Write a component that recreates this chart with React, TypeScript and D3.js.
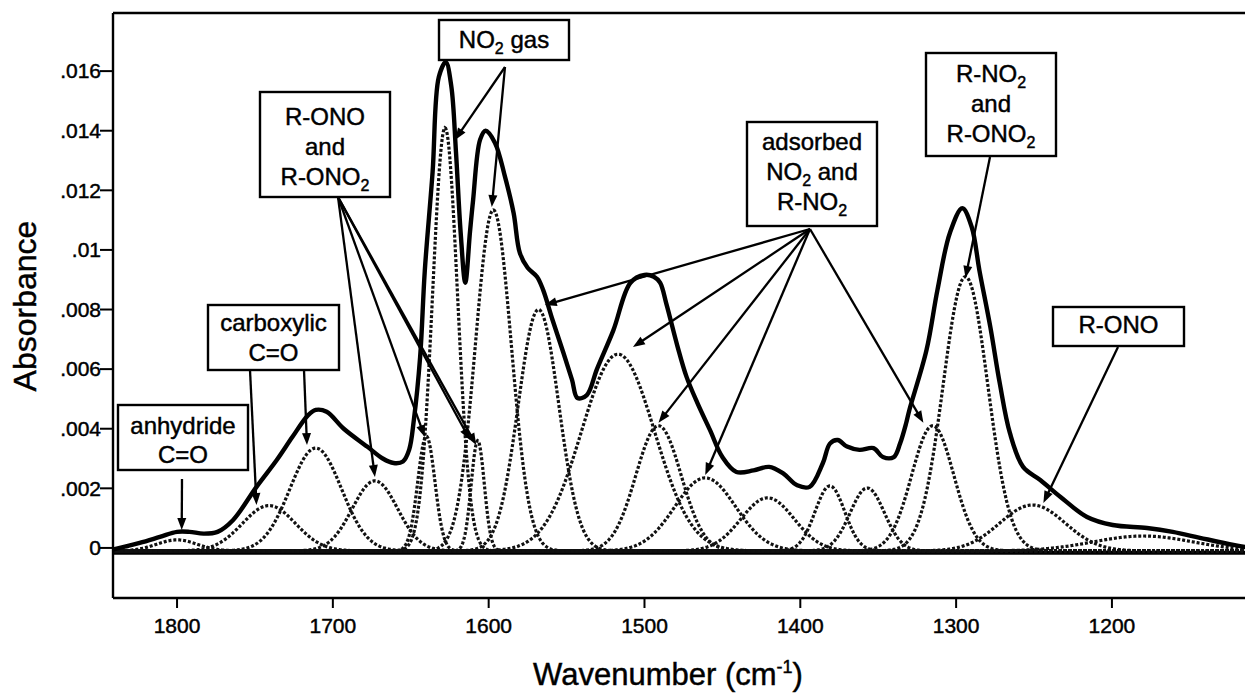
import React from 'react';
import * as d3 from 'd3';

// Measured (thick) spectrum: wavenumber (cm-1) and absorbance
const TOTAL_WN = [1841, 1824, 1811, 1800, 1792, 1783, 1774, 1764, 1749, 1736, 1726, 1716, 1711, 1704, 1693, 1678, 1668, 1661, 1655, 1651, 1648, 1644, 1641, 1636, 1632, 1627.5, 1624, 1621, 1618, 1615, 1612, 1610, 1605.5, 1602, 1596, 1589.5, 1584, 1580, 1575, 1569, 1565, 1559, 1552, 1546.5, 1543, 1537, 1530.5, 1520, 1509, 1500, 1494, 1490, 1486, 1479, 1473, 1466, 1458, 1450, 1441, 1430, 1420, 1411, 1402, 1394, 1385.5, 1381, 1376, 1370, 1362, 1353, 1347, 1340, 1336, 1332, 1330, 1319, 1312, 1304, 1296, 1290, 1285, 1278, 1272, 1265.5, 1257, 1246, 1233, 1216, 1199.5, 1177.5, 1161, 1143.5, 1122, 1114.6];
const TOTAL_ABS = [-0.00005, 0.00017, 0.00037, 0.00054, 0.00054, 0.00048, 0.00054, 0.00094, 0.00205, 0.00295, 0.00372, 0.00445, 0.00463, 0.00457, 0.0040, 0.0034, 0.0030, 0.00285, 0.0029, 0.0033, 0.0043, 0.0064, 0.0093, 0.0126, 0.0158, 0.0163, 0.0155, 0.0133, 0.0106, 0.0089, 0.0106, 0.01167, 0.0137, 0.0140, 0.0136, 0.01245, 0.01124, 0.0099, 0.0094, 0.0091, 0.00865, 0.00765, 0.00654, 0.00564, 0.00503, 0.00513, 0.0060, 0.0073, 0.0089, 0.00916, 0.0091, 0.0089, 0.0082, 0.0068, 0.00574, 0.00486, 0.00396, 0.00305, 0.00255, 0.0026, 0.00272, 0.0025, 0.0021, 0.00205, 0.00285, 0.0035, 0.00362, 0.0034, 0.00329, 0.00335, 0.00305, 0.00305, 0.0035, 0.0042, 0.00463, 0.00664, 0.00865, 0.01057, 0.0114, 0.01077, 0.0093, 0.0074, 0.00553, 0.00386, 0.00272, 0.00228, 0.00171, 0.00104, 0.00077, 0.00067, 0.00054, 0.00034, 0.0001, 0.00003];

// Fitted component bands (dotted): centre, height, width (sigma, cm-1)
const PEAK_CENTER = [1800, 1741, 1711, 1673, 1640, 1628, 1607, 1597, 1568, 1517, 1491, 1461, 1421, 1381, 1357, 1315, 1294, 1251, 1180];
const PEAK_HEIGHT = [0.00037, 0.00152, 0.00345, 0.00235, 0.00385, 0.0142, 0.0037, 0.01144, 0.0081, 0.0066, 0.0042, 0.00245, 0.00178, 0.00218, 0.00211, 0.0042, 0.0092, 0.00154, 0.0005];
const PEAK_WIDTH = [13, 17, 16.5, 14.5, 5.5, 8, 4.2, 11.5, 13, 23.5, 14.5, 19.5, 17, 9.5, 11, 13.5, 14.3, 21, 32];

const X_TICKS = [1800, 1700, 1600, 1500, 1400, 1300, 1200];
const Y_TICKS = [0, 0.002, 0.004, 0.006, 0.008, 0.01, 0.012, 0.014, 0.016];
const Y_TICK_LABELS = ['0', '.002', '.004', '.006', '.008', '.01', '.012', '.014', '.016'];

const X_DOMAIN = [1841.1, 1114.6];
const Y_DOMAIN = [-0.00168, 0.01795];
const COMPONENT_BASE = -0.0001;
const BASELINE = -0.00016;

type Seg = { t: string; sub?: boolean };
type Note = {
  box: [number, number, number, number];
  lines: Seg[][];
  baselines: number[];
  from: [number, number];
  targets: [number, number][];
};

const NOTES: Note[] = [
  { box: [118, 405, 248, 470], lines: [[{ t: 'anhydride' }], [{ t: 'C=O' }]], baselines: [434, 463], from: [182, 479], targets: [[1797, 0.0006]] },
  { box: [208, 305, 339, 370], lines: [[{ t: 'carboxylic' }], [{ t: 'C=O' }]], baselines: [331, 361], from: [250, 370], targets: [[1749, 0.00144]] },
  { box: [208, 305, 339, 370], lines: [], baselines: [], from: [304, 370], targets: [[1716.6, 0.00345]] },
  { box: [260, 92, 390, 197], lines: [[{ t: 'R-ONO' }], [{ t: 'and' }], [{ t: 'R-ONO' }, { t: '2', sub: true }]], baselines: [125, 155, 185], from: [338, 197], targets: [[1673, 0.00238], [1641, 0.00372], [1612, 0.00362], [1608, 0.00345]] },
  { box: [439, 20, 569, 60], lines: [[{ t: 'NO' }, { t: '2', sub: true }, { t: ' gas' }]], baselines: [48], from: [505, 67], targets: [[1621.6, 0.01369], [1598, 0.01144]] },
  { box: [747, 122, 877, 226], lines: [[{ t: 'adsorbed' }], [{ t: 'NO' }, { t: '2', sub: true }, { t: ' and' }], [{ t: 'R-NO' }, { t: '2', sub: true }]], baselines: [150, 180, 210], from: [810, 229], targets: [[1564, 0.00815], [1507.4, 0.00674], [1491, 0.0042], [1461, 0.00245], [1321, 0.0042]] },
  { box: [926, 53, 1056, 156], lines: [[{ t: 'R-NO' }, { t: '2', sub: true }], [{ t: 'and' }], [{ t: 'R-ONO' }, { t: '2', sub: true }]], baselines: [82, 112, 142], from: [990, 157], targets: [[1294, 0.00906]] },
  { box: [1053, 307, 1184, 346], lines: [[{ t: 'R-ONO' }]], baselines: [333], from: [1118, 347], targets: [[1244, 0.00151]] },
];

const FONT = "'Liberation Sans', Arial, Helvetica, sans-serif";
const TEXT_STROKE = { stroke: '#000', strokeWidth: 0.45 };

function Arrow({ x1, y1, x2, y2 }: { x1: number; y1: number; x2: number; y2: number }) {
  const dx = x2 - x1, dy = y2 - y1;
  const L = Math.hypot(dx, dy);
  const ux = dx / L, uy = dy / L;
  const hl = 12, hw = 4.5;
  const bx = x2 - ux * hl, by = y2 - uy * hl;
  const p = `${x2},${y2} ${bx - uy * hw},${by + ux * hw} ${bx + uy * hw},${by - ux * hw}`;
  return (
    <g>
      <line x1={x1} y1={y1} x2={bx + ux * 2} y2={by + uy * 2} stroke="#000" strokeWidth={2.3} />
      <polygon points={p} fill="#000" />
    </g>
  );
}

export default function App() {
  const W = 1245, H = 694;
  const left = 113, top = 13, right = 1245, bottom = 598;
  const x = d3.scaleLinear().domain(X_DOMAIN).range([left, right]);
  const y = d3.scaleLinear().domain(Y_DOMAIN).range([bottom, top]);

  const totalData = TOTAL_WN.map((w, i) => [w, TOTAL_ABS[i]] as [number, number]);
  const line = d3.line<[number, number]>().x(d => x(d[0])).y(d => y(d[1])).curve(d3.curveCatmullRom.alpha(0.5));
  const totalPath = line(totalData) || '';

  const grid = d3.range(X_DOMAIN[1] - 2, X_DOMAIN[0] + 2, 0.5);
  const compLine = d3.line<[number, number]>().x(d => x(d[0])).y(d => y(d[1]));
  const compPaths = PEAK_CENTER.map((c, i) => {
    const h = PEAK_HEIGHT[i], s = PEAK_WIDTH[i];
    const pts = grid.map(w => [w, COMPONENT_BASE + h * Math.exp(-((w - c) ** 2) / (2 * s * s))] as [number, number]);
    return compLine(pts) || '';
  });

  return (
    <svg width={W} height={H} style={{ position: 'absolute', left: 0, top: 0, background: '#fff' }} fontFamily={FONT}>
      <defs>
        <clipPath id="plot">
          <rect x={left} y={top} width={right - left} height={bottom - top} />
        </clipPath>
      </defs>
      <rect x={0} y={0} width={W} height={H} fill="#fff" />
      <g clipPath="url(#plot)">
        <line x1={left} x2={right} y1={y(BASELINE)} y2={y(BASELINE)} stroke="#000" strokeWidth={4} />
        {compPaths.map((d, i) => (
          <path key={i} d={d} fill="none" stroke="#111" strokeWidth={3.2} strokeDasharray="3 1.9" />
        ))}
        <path d={totalPath} fill="none" stroke="#000" strokeWidth={4.4} strokeLinejoin="round" strokeLinecap="round" />
      </g>
      {/* frame */}
      <line x1={left} x2={right} y1={top} y2={top} stroke="#000" strokeWidth={2.4} />
      <line x1={left} x2={left} y1={top} y2={bottom} stroke="#000" strokeWidth={2.4} />
      <line x1={left} x2={right} y1={bottom} y2={bottom} stroke="#000" strokeWidth={2.4} />
      {/* ticks */}
      {Y_TICKS.map((v, i) => (
        <g key={'y' + i}>
          <line x1={left - 13} x2={left} y1={y(v)} y2={y(v)} stroke="#000" strokeWidth={2} />
          <text x={left - 12} y={y(v)} dy="0.35em" textAnchor="end" fontSize={21} {...TEXT_STROKE}>{Y_TICK_LABELS[i]}</text>
        </g>
      ))}
      {X_TICKS.map((w, i) => (
        <g key={'x' + i}>
          <line x1={x(w)} x2={x(w)} y1={bottom} y2={bottom + 10} stroke="#000" strokeWidth={2} />
          <text x={x(w)} y={633} textAnchor="middle" fontSize={21} {...TEXT_STROKE}>{w}</text>
        </g>
      ))}
      <text transform={`translate(36,306) rotate(-90)`} textAnchor="middle" fontSize={32} {...TEXT_STROKE}>Absorbance</text>
      <text x={668} y={685} textAnchor="middle" fontSize={31} {...TEXT_STROKE}>
        Wavenumber (cm<tspan fontSize={18} dy={-12}>-1</tspan><tspan dy={12}>)</tspan>
      </text>
      {/* annotations */}
      {NOTES.map((n, i) => {
        const [x0, y0, x1, y1] = n.box;
        const cx = (x0 + x1) / 2;
        return (
          <g key={'n' + i}>
            {n.lines.length > 0 && (
              <rect x={x0} y={y0} width={x1 - x0} height={y1 - y0} fill="#fff" stroke="#000" strokeWidth={2.4} />
            )}
            {n.lines.map((ln, j) => (
              <text key={j} x={cx} y={n.baselines[j]} textAnchor="middle" fontSize={24} {...TEXT_STROKE}>
                {ln.map((s, k) =>
                  s.sub ? (
                    <tspan key={k} fontSize={16} dy={6}>{s.t}</tspan>
                  ) : (
                    <tspan key={k} dy={k > 0 && ln[k - 1].sub ? -6 : 0}>{s.t}</tspan>
                  )
                )}
              </text>
            ))}
            {n.targets.map((t, k) => (
              <Arrow key={k} x1={n.from[0]} y1={n.from[1]} x2={x(t[0])} y2={y(t[1])} />
            ))}
          </g>
        );
      })}
    </svg>
  );
}
